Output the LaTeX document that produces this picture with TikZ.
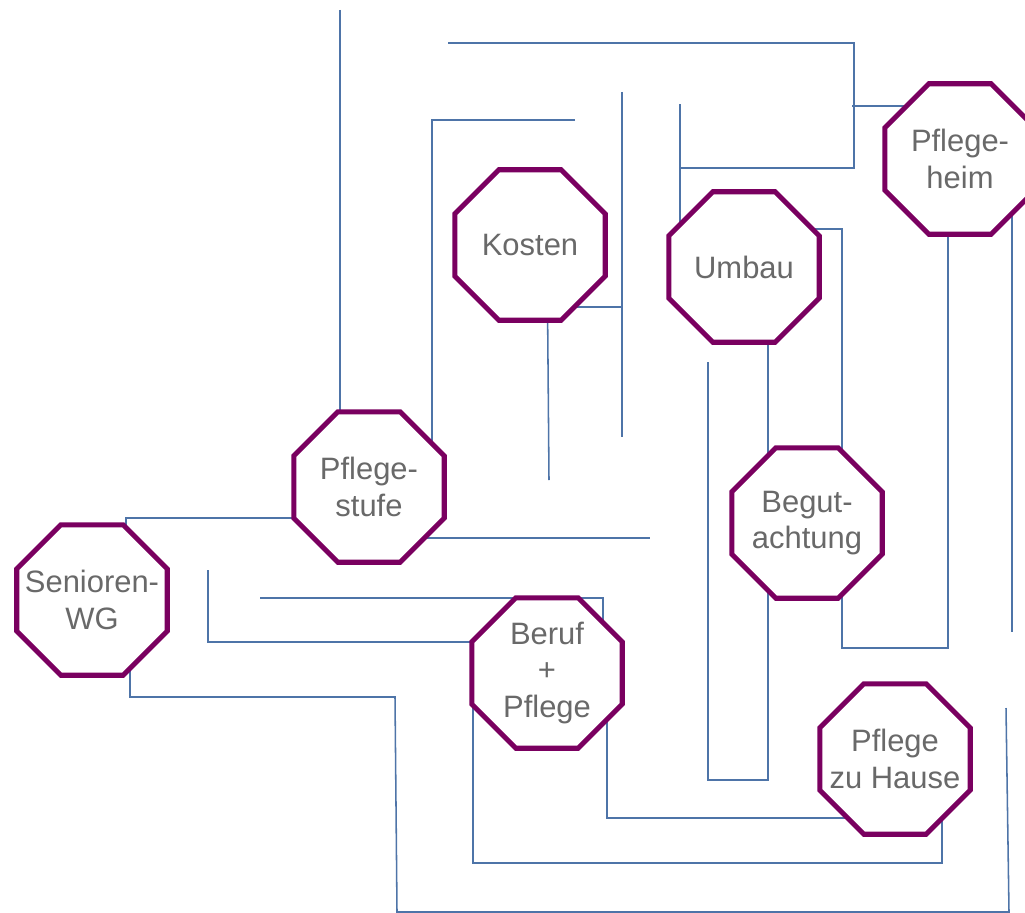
\documentclass[tikz,border=0pt]{standalone}
\usepackage{fontspec}
\setmainfont{Liberation Sans}
\usetikzlibrary{shapes.geometric}
\pgfdeclarelayer{background}
\pgfsetlayers{background,main}
\definecolor{octlila}{RGB}{122,0,96}
\definecolor{linblau}{RGB}{78,116,168}
\definecolor{textgrau}{RGB}{105,105,105}
\begin{document}
\begin{tikzpicture}[x=0.025cm,y=-0.025cm,
    thema/.style={regular polygon,regular polygon sides=8,minimum size=4.07cm,inner sep=-0.6cm,
      draw=octlila,line width=3.6pt,fill=white,text=textgrau,align=center,
      font=\fontsize{22}{26}\selectfont},
    weg/.style={draw=linblau,line width=1.1pt}]
    \useasboundingbox (0,0) rectangle (1025,913);
    \clip (0,0) rectangle (1025,913);
    % Themen
    \node[thema] (kosten) at (530,245) {Kosten};
    \node[thema] (umbau) at (744,267) {Umbau};
    \node[thema] (heim) at (960,159) {Pflege-\\heim};
    \node[thema] (stufe) at (369,487) {Pflege-\\stufe};
    \node[thema] (senior) at (92,600) {Senioren-\\WG};
    \node[thema] (gut) at (807,523) {Begut-\\achtung};
    \node[thema] (beruf) at (547,673) {Beruf\\+\\Pflege};
    \node[thema] (hause) at (895,759) {Pflege\\zu Hause};
    % Wege
    \begin{pgfonlayer}{background}
        \coordinate (e1) at (340,10);
        \coordinate (e2) at (448,43);
        \coordinate (e3) at (680,104);
        \coordinate (e4) at (852,106);
        \coordinate (e5) at (575,120);
        \coordinate (e6) at (622,92);
        \coordinate (e7) at (622,437);
        \coordinate (e8) at (549,480);
        \coordinate (e9) at (708,362);
        \coordinate (e10) at (1012,632);
        \coordinate (e11) at (1006,708);
        \coordinate (e12) at (650,538);
        \coordinate (e13) at (208,570);
        \coordinate (e14) at (260,598);
        \draw[weg] (e1) -- (e1 |- stufe.center);
        \draw[weg] (e2) -- (854,43) -- (854,168) -- (680,168);
        \draw[weg] (e3) -- (e3 |- umbau.center);
        \draw[weg] (e4) -- (heim.center |- e4);
        \draw[weg] (e5) -- (432,120) -- (432,0 |- stufe.center);
        \draw[weg] (e6) -- (e7);
        \draw[weg] (622,307) -- (kosten.center |- 0,307);
        \draw[weg] (547,0 |- kosten.center) -- (e8);
        \draw[weg] (768,0 |- umbau.center) -- (768,780) -- (708,780) -- (e9);
        \draw[weg] (umbau.center |- 0,229) -- (842,229) -- (842,648) -- (948,648) -- (948,0 |- heim.center);
        \draw[weg] (1012,0 |- heim.center) -- (e10);
        \draw[weg] (130,0 |- senior.center) -- (130,697) -- (395,697) -- (397,912) -- (1009,912) -- (e11);
        \draw[weg] (stufe.center |- 0,518) -- (126,518) -- (126,0 |- senior.center);
        \draw[weg] (stufe.center |- e12) -- (e12);
        \draw[weg] (e13) -- (208,642) -- (beruf.center |- 0,642);
        \draw[weg] (e14) -- (603,598) -- (603,0 |- beruf.center);
        \draw[weg] (607,0 |- beruf.center) -- (607,818) -- (hause.center |- 0,818);
        \draw[weg] (473,0 |- beruf.center) -- (473,863) -- (942,863) -- (942,0 |- hause.center);
    \end{pgfonlayer}
\end{tikzpicture}
\end{document}
